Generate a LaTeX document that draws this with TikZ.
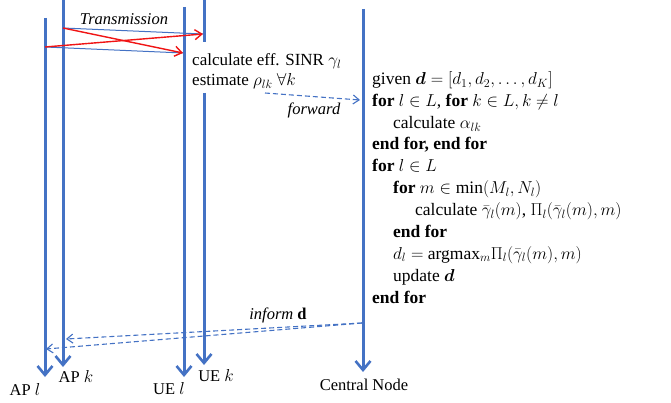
\documentclass[tikz,border=0pt]{standalone}
\usepackage{amsmath,amssymb}
\usepackage{fontspec}
\setmainfont{Liberation Serif}
\definecolor{lineblue}{RGB}{68,114,196}
\definecolor{txred}{RGB}{240,20,20}
\usetikzlibrary{arrows.meta}

\begin{document}
\begin{tikzpicture}[x=1pt, y=-1pt,
  lifeline/.style={draw=lineblue, line width=3pt,
    -{Straight Barb[length=9pt, width=15pt, line width=2.6pt]}},
  nolife/.style={draw=lineblue, line width=3pt},
  txblue/.style={draw=lineblue, line width=1pt},
  txarrow/.style={draw=txred, line width=1.4pt,
    -{Straight Barb[length=7pt, width=10pt]}},
  msgarrow/.style={draw=lineblue, line width=1.1pt, dash pattern=on 5pt off 3pt,
    -{Straight Barb[length=6pt, width=9pt]}},
  entity/.style={font=\fontsize{16.5}{19}\selectfont, inner sep=0pt},
  msglabel/.style={font=\fontsize{16.5}{19}\selectfont\itshape, inner sep=0pt},
  note/.style={font=\fontsize{17}{20}\selectfont, anchor=base west, inner sep=0pt},
  algline/.style={font=\fontsize{17.5}{20}\selectfont, anchor=base west, inner sep=0pt}]

\useasboundingbox (0,0) rectangle (671,403);

% lifelines
\coordinate (apl-top) at (45,18);   \coordinate (apl-end) at (45,377);
\coordinate (apk-top) at (63,0);    \coordinate (apk-end) at (63,367);
\coordinate (uel-top) at (184,7);   \coordinate (uel-end) at (184,377);
\coordinate (uek-top) at (204,0);   \coordinate (uek-gap) at (204,42);
\coordinate (uek-res) at (204,93);  \coordinate (uek-end) at (204,365);
\coordinate (cn-top) at (363,9);    \coordinate (cn-end) at (363,372);

\draw[lifeline] (apl-top) -- (apl-end);
\draw[lifeline] (apk-top) -- (apk-end);
\draw[lifeline] (uel-top) -- (uel-end);
\draw[nolife] (uek-top) -- (uek-gap);
\draw[lifeline] (uek-res) -- (uek-end);
\draw[lifeline] (cn-top) -- (cn-end);

\node[entity] (apl) at (25,389) {AP $l$};
\node[entity] (apk) at (76,376) {AP $k$};
\node[entity] (uel) at (169,389) {UE $l$};
\node[entity] (uek) at (216,376) {UE $k$};
\node[entity] (cn) at (364,385) {Central Node};

% transmission
\coordinate (apk-tx) at (63,28);
\coordinate (apl-tx) at (45,47);
\coordinate (uek-rx) at (203,34);
\coordinate (uel-rx) at (183,53);
\node[msglabel] (tx) at (124,19) {Transmission};
\draw[txblue] (apk-tx) -- (uek-rx);
\draw[txblue] (apl-tx) -- (uel-rx);
\draw[txarrow] (apk-tx) -- (uel-rx);
\draw[txarrow] (apl-tx) -- (uek-rx);

\node[note] (sinr) at (192,66) {calculate eff. SINR $\gamma_l$};
\node[note] (rho) at (192,86) {estimate $\rho_{lk}\ \forall k$};

% forward
\coordinate (fw-start) at (265,93);
\coordinate (fw-end) at (360,100);
\draw[msgarrow] (fw-start) -- (fw-end);
\node[msglabel] (fw) at (314,110) {forward};

% algorithm at the central node
\node[algline] (a1) at (372,85) {given $\boldsymbol{d}=[d_1,d_2,\ldots,d_K]$};
\node[algline] (a2) at (372,107) {\textbf{for} $l\in L$, \textbf{for} $k\in L, k\neq l$};
\node[algline] (a3) at (393,129) {calculate $\alpha_{lk}$};
\node[algline] (a4) at (372,150) {\textbf{end for, end for}};
\node[algline] (a5) at (372,172) {\textbf{for} $l\in L$};
\node[algline] (a6) at (393,194) {\textbf{for} $m\in\min(M_l,N_l)$};
\node[algline] (a7) at (415,216) {calculate $\bar{\gamma}_l(m)$, $\Pi_l(\bar{\gamma}_l(m),m)$};
\node[algline] (a8) at (393,237) {\textbf{end for}};
\node[algline] (a9) at (393,259) {$d_l=$ argmax$_m\Pi_l(\bar{\gamma}_l(m),m)$};
\node[algline] (a10) at (393,281) {update $\boldsymbol{d}$};
\node[algline] (a11) at (372,303) {\textbf{end for}};

% inform
\coordinate (cn-inf) at (362,323);
\coordinate (apk-inf) at (66,339);
\coordinate (apl-inf) at (46,349);
\draw[msgarrow] (cn-inf) -- (apk-inf);
\draw[msgarrow] (cn-inf) -- (apl-inf);
\node[msglabel] (inf) at (278,315) {inform $\mathbf{d}$};

\end{tikzpicture}
\end{document}
